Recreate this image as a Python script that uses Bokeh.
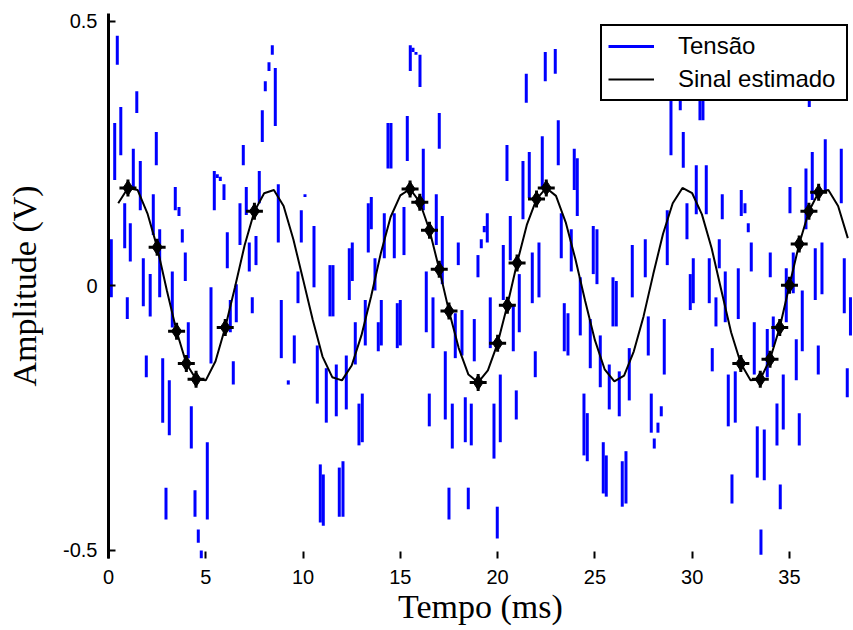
from bokeh.plotting import figure
from bokeh.models import Range1d, FixedTicker, Legend, LegendItem
from bokeh.embed import file_html
from bokeh.resources import INLINE

# ---- noisy measured signal, drawn as the short vertical strokes seen in the picture ----
noisy_t = [
    0.000, 0.144, 0.319, 0.452, 0.632, 0.833, 0.966, 1.120, 1.275, 1.454,
    1.634, 1.789, 1.943, 2.143, 2.302, 2.457, 2.631, 2.786, 2.955, 3.125,
    3.279, 3.433, 3.623, 3.793, 3.947, 4.101, 4.256, 4.446, 4.615, 4.769,
    5.078, 5.268, 5.438, 5.592, 5.746, 5.936, 6.106, 6.260, 6.414, 6.568,
    6.758, 6.928, 7.082, 7.236, 7.390, 7.581, 7.750, 7.905, 8.059, 8.249,
    8.419, 8.573, 8.727, 8.881, 9.241, 9.549, 9.739, 9.909, 10.099, 10.562,
    10.731, 10.886, 11.040, 11.194, 11.384, 11.538, 11.708, 11.862, 12.052, 12.222,
    12.376, 12.530, 12.684, 12.874, 13.044, 13.198, 13.352, 13.507, 13.697, 13.866,
    14.021, 14.175, 14.365, 14.519, 14.689, 14.843, 14.997, 15.187, 15.357, 15.511,
    15.650, 15.804, 16.010, 16.179, 16.333, 16.488, 16.678, 16.847, 17.001, 17.156,
    17.310, 17.500, 17.670, 17.824, 17.978, 18.168, 18.338, 18.492, 18.646, 18.800,
    18.990, 19.160, 19.314, 19.468, 19.622, 19.813, 19.982, 20.137, 20.291, 20.481,
    20.651, 20.805, 20.959, 21.113, 21.303, 21.473, 21.627, 21.781, 21.935, 22.125,
    22.295, 22.449, 22.963, 23.117, 23.271, 23.426, 23.616, 23.785, 23.939, 24.094,
    24.248, 24.438, 24.608, 24.762, 24.916, 25.106, 25.276, 25.430, 25.584, 25.738,
    25.929, 26.098, 26.252, 26.406, 26.597, 26.766, 26.921, 27.589, 27.743, 27.897,
    28.051, 28.241, 28.411, 28.565, 28.719, 28.910, 29.387, 29.542, 29.732, 29.902,
    30.056, 30.210, 30.400, 30.554, 30.724, 30.878, 31.032, 31.222, 31.392, 31.546,
    31.700, 31.855, 32.045, 32.214, 32.369, 32.523, 32.713, 32.883, 33.037, 33.191,
    33.345, 33.535, 33.705, 33.859, 34.013, 34.168, 34.358, 34.527, 34.681, 34.836,
    35.026, 35.195, 35.350, 35.504, 35.658, 35.848, 36.018, 36.172, 36.326, 36.481,
    36.671, 36.840, 37.663, 37.817, 37.971, 38.135,
]
noisy_hi = [
    -0.132, 0.088, 0.308, 0.473, 0.338, 0.156, -0.022, 0.118, 0.259, 0.368,
    0.236, 0.052, -0.132, 0.022, 0.173, 0.291, 0.107, -0.137, -0.382, -0.179,
    0.027, 0.187, 0.149, 0.107, 0.063, -0.069, -0.228, -0.387, -0.461, -0.501,
    -0.296, -0.003, 0.217, 0.211, 0.206, 0.192, 0.101, -0.027, -0.143, 0.003,
    0.156, 0.266, 0.187, 0.082, -0.022, 0.094, 0.217, 0.332, 0.387, 0.423,
    0.455, 0.412, 0.192, -0.027, -0.179, -0.094, 0.027, 0.143, 0.173, 0.113,
    -0.113, -0.338, -0.357, -0.156, 0.039, 0.039, -0.149, -0.344, -0.332, -0.132,
    0.071, 0.082, -0.069, -0.223, -0.204, -0.027, 0.156, 0.168, 0.052, -0.069,
    -0.027, 0.137, 0.308, 0.308, 0.137, -0.033, -0.027, 0.149, 0.321, 0.455,
    0.450, 0.442, 0.437, 0.259, 0.027, -0.204, -0.022, 0.173, 0.327, 0.132,
    -0.124, -0.382, -0.223, -0.052, 0.082, -0.046, -0.211, -0.382, -0.223, -0.063,
    0.058, 0.088, 0.113, 0.137, -0.022, -0.223, -0.418, -0.168, 0.077, 0.266,
    0.132, -0.035, -0.198, 0.022, 0.236, 0.401, 0.253, 0.063, -0.124, 0.082,
    0.283, 0.442, 0.448, 0.313, 0.137, -0.033, -0.052, 0.107, 0.259, 0.241,
    0.016, -0.204, -0.241, -0.063, 0.113, 0.107, -0.094, -0.296, -0.321, -0.149,
    0.016, 0.009, -0.162, -0.332, -0.313, -0.118, 0.077, 0.088, -0.058, -0.204,
    -0.289, -0.259, -0.228, -0.063, 0.143, 0.370, 0.370, 0.291, 0.156, 0.022,
    0.052, 0.228, 0.370, 0.370, 0.228, 0.052, -0.118, -0.022, 0.088, 0.173,
    0.027, -0.168, -0.357, -0.162, 0.033, 0.181, 0.156, 0.118, 0.082, -0.069,
    -0.266, -0.461, -0.272, -0.082, 0.063, -0.058, -0.223, -0.376, -0.168, 0.033,
    0.187, 0.063, -0.101, -0.241, -0.009, 0.222, 0.370, 0.253, 0.071, -0.113,
    0.082, 0.277, 0.259, 0.052, -0.156, -0.022,
]
noisy_lo = [
    -0.185, -0.022, 0.200, 0.418, 0.247, 0.071, -0.063, 0.046, 0.187, 0.327,
    0.143, -0.039, -0.173, -0.058, 0.096, 0.228, -0.022, -0.259, -0.442, -0.283,
    -0.079, 0.143, 0.132, 0.082, 0.009, -0.137, -0.308, -0.437, -0.486, -0.516,
    -0.442, -0.147, 0.143, 0.204, 0.198, 0.162, 0.033, -0.088, -0.187, -0.069,
    0.077, 0.228, 0.134, 0.027, -0.052, 0.039, 0.156, 0.272, 0.368, 0.406,
    0.437, 0.302, 0.082, -0.137, -0.187, -0.147, -0.033, 0.082, 0.168, -0.003,
    -0.223, -0.448, -0.454, -0.259, -0.058, -0.058, -0.247, -0.437, -0.437, -0.234,
    -0.027, 0.009, -0.149, -0.302, -0.296, -0.113, 0.063, 0.107, -0.009, -0.124,
    -0.113, 0.052, 0.222, 0.222, 0.052, -0.118, -0.113, 0.058, 0.236, 0.406,
    0.442, 0.437, 0.376, 0.143, -0.088, -0.266, -0.118, 0.077, 0.259, 0.003,
    -0.253, -0.442, -0.308, -0.137, 0.039, -0.132, -0.296, -0.423, -0.302, -0.143,
    0.016, 0.071, 0.101, 0.082, -0.118, -0.327, -0.478, -0.296, -0.027, 0.198,
    0.048, -0.124, -0.253, -0.088, 0.126, 0.346, 0.166, -0.033, -0.173, -0.022,
    0.187, 0.387, 0.401, 0.228, 0.052, -0.124, -0.132, 0.027, 0.181, 0.132,
    -0.094, -0.321, -0.332, -0.156, 0.022, 0.003, -0.192, -0.393, -0.399, -0.234,
    -0.077, -0.077, -0.247, -0.418, -0.412, -0.217, -0.022, 0.016, -0.132, -0.278,
    -0.308, -0.278, -0.247, -0.168, 0.039, 0.247, 0.332, 0.223, 0.088, -0.046,
    -0.033, 0.135, 0.313, 0.313, 0.135, -0.033, -0.162, -0.077, 0.033, 0.126,
    -0.069, -0.266, -0.412, -0.259, -0.063, 0.132, 0.137, 0.101, 0.027, -0.168,
    -0.363, -0.509, -0.368, -0.173, 0.016, -0.116, -0.302, -0.423, -0.272, -0.069,
    0.137, -0.014, -0.179, -0.302, -0.124, 0.107, 0.338, 0.162, -0.027, -0.168,
    -0.016, 0.181, 0.156, -0.052, -0.211, -0.094,
]

# ---- estimated signal (every 0.5 ms) ----
est_t = [
    0.5, 1.0, 1.5, 2.0, 2.5, 3.0, 3.5, 4.0, 4.5, 5.0,
    5.5, 6.0, 6.5, 7.0, 7.5, 8.0, 8.5, 9.0, 9.5, 10.0,
    10.5, 11.0, 11.5, 12.0, 12.5, 13.0, 13.5, 14.0, 14.5, 15.0,
    15.5, 16.0, 16.5, 17.0, 17.5, 18.0, 18.5, 19.0, 19.5, 20.0,
    20.5, 21.0, 21.5, 22.0, 22.5, 23.0, 23.5, 24.0, 24.5, 25.0,
    25.5, 26.0, 26.5, 27.0, 27.5, 28.0, 28.5, 29.0, 29.5, 30.0,
    30.5, 31.0, 31.5, 32.0, 32.5, 33.0, 33.5, 34.0, 34.5, 35.0,
    35.5, 36.0, 36.5, 37.0, 37.5, 38.0,
]
est_v = [
    0.156, 0.185, 0.181, 0.137, 0.073, -0.009, -0.086, -0.147, -0.177, -0.179,
    -0.143, -0.079, -0.003, 0.077, 0.141, 0.175, 0.181, 0.151, 0.088, 0.012,
    -0.065, -0.134, -0.173, -0.179, -0.151, -0.094, -0.020, 0.062, 0.130, 0.171,
    0.183, 0.158, 0.105, 0.031, -0.048, -0.118, -0.168, -0.183, -0.160, -0.109,
    -0.037, 0.043, 0.115, 0.164, 0.185, 0.170, 0.120, 0.050, -0.029, -0.103,
    -0.158, -0.181, -0.170, -0.124, -0.058, 0.022, 0.098, 0.156, 0.185, 0.175,
    0.135, 0.071, -0.009, -0.088, -0.147, -0.179, -0.177, -0.139, -0.079, 0.001,
    0.079, 0.141, 0.177, 0.181, 0.151, 0.090,
]
# samples whose star markers are visible in the picture
star_t = [1.0, 2.5, 3.5, 4.0, 4.5, 6.0, 7.5, 15.5, 16.0, 16.5, 17.0, 17.5,
          19.0, 20.0, 20.5, 21.0, 22.0, 22.5, 32.5, 33.5, 34.0, 34.5, 35.0,
          35.5, 36.0, 36.5]

x_ticks = [0, 5, 10, 15, 20, 25, 30, 35]
y_ticks = [-0.5, 0, 0.5]
y_tick_labels = ["-0.5", "0", "0.5"]
legend_labels = ["Tensão", "Sinal estimado"]

p = figure(width=853, height=630, output_backend="svg", toolbar_location=None,
           x_range=Range1d(0, 38.24), y_range=Range1d(-0.516, 0.515),
           min_border_left=108, min_border_right=1, min_border_top=13,
           min_border_bottom=72)
p.background_fill_color = "white"
p.border_fill_color = "white"
p.outline_line_color = None
p.grid.visible = False

seg = p.segment(x0=noisy_t, y0=noisy_lo, x1=noisy_t, y1=noisy_hi,
                line_color="#0000ff", line_width=3)
est = p.line(est_t, est_v, line_color="black", line_width=2)
star_v = [est_v[est_t.index(t)] for t in star_t]
p.scatter(star_t, star_v, marker="diamond", size=15, color="black")
p.scatter(star_t, star_v, marker="cross", size=17, line_color="black", line_width=3)

xa = p.xaxis[0]
ya = p.yaxis[0]
xa.ticker = FixedTicker(ticks=x_ticks)
ya.ticker = FixedTicker(ticks=y_ticks)
ya.major_label_overrides = {t: s for t, s in zip(y_ticks, y_tick_labels)}
xa.axis_label = "Tempo (ms)"
ya.axis_label = "Amplitude (V)"
for ax in (xa, ya):
    ax.major_tick_in = 7
    ax.major_tick_out = 0
    ax.minor_tick_line_color = None
    ax.major_tick_line_color = "black"
    ax.major_tick_line_width = 2
    ax.major_label_text_font = "Liberation Sans"
    ax.major_label_text_font_size = "20px"
    ax.major_label_text_color = "black"
    ax.axis_label_text_font = "Liberation Serif"
    ax.axis_label_text_font_size = "34px"
    ax.axis_label_text_font_style = "normal"
    ax.axis_label_text_color = "black"
xa.axis_line_color = None
ya.axis_line_color = "black"
ya.axis_line_width = 3
xa.major_label_standoff = 11
xa.axis_label_standoff = 1
ya.major_label_standoff = 11
ya.axis_label_standoff = 17

legend = Legend(items=[LegendItem(label=legend_labels[0], renderers=[seg]),
                       LegendItem(label=legend_labels[1], renderers=[est])],
                location=(492, 457), orientation="vertical",
                padding=6, spacing=5, glyph_width=46, glyph_height=28,
                label_height=28, label_width=162, label_standoff=24,
                label_text_font="Liberation Sans", label_text_font_size="24px",
                label_text_color="black", border_line_color="black",
                border_line_alpha=1.0, border_line_width=2.5,
                background_fill_color="white", background_fill_alpha=1.0)
p.add_layout(legend)

open("out.html", "w").write(file_html(p, INLINE))
